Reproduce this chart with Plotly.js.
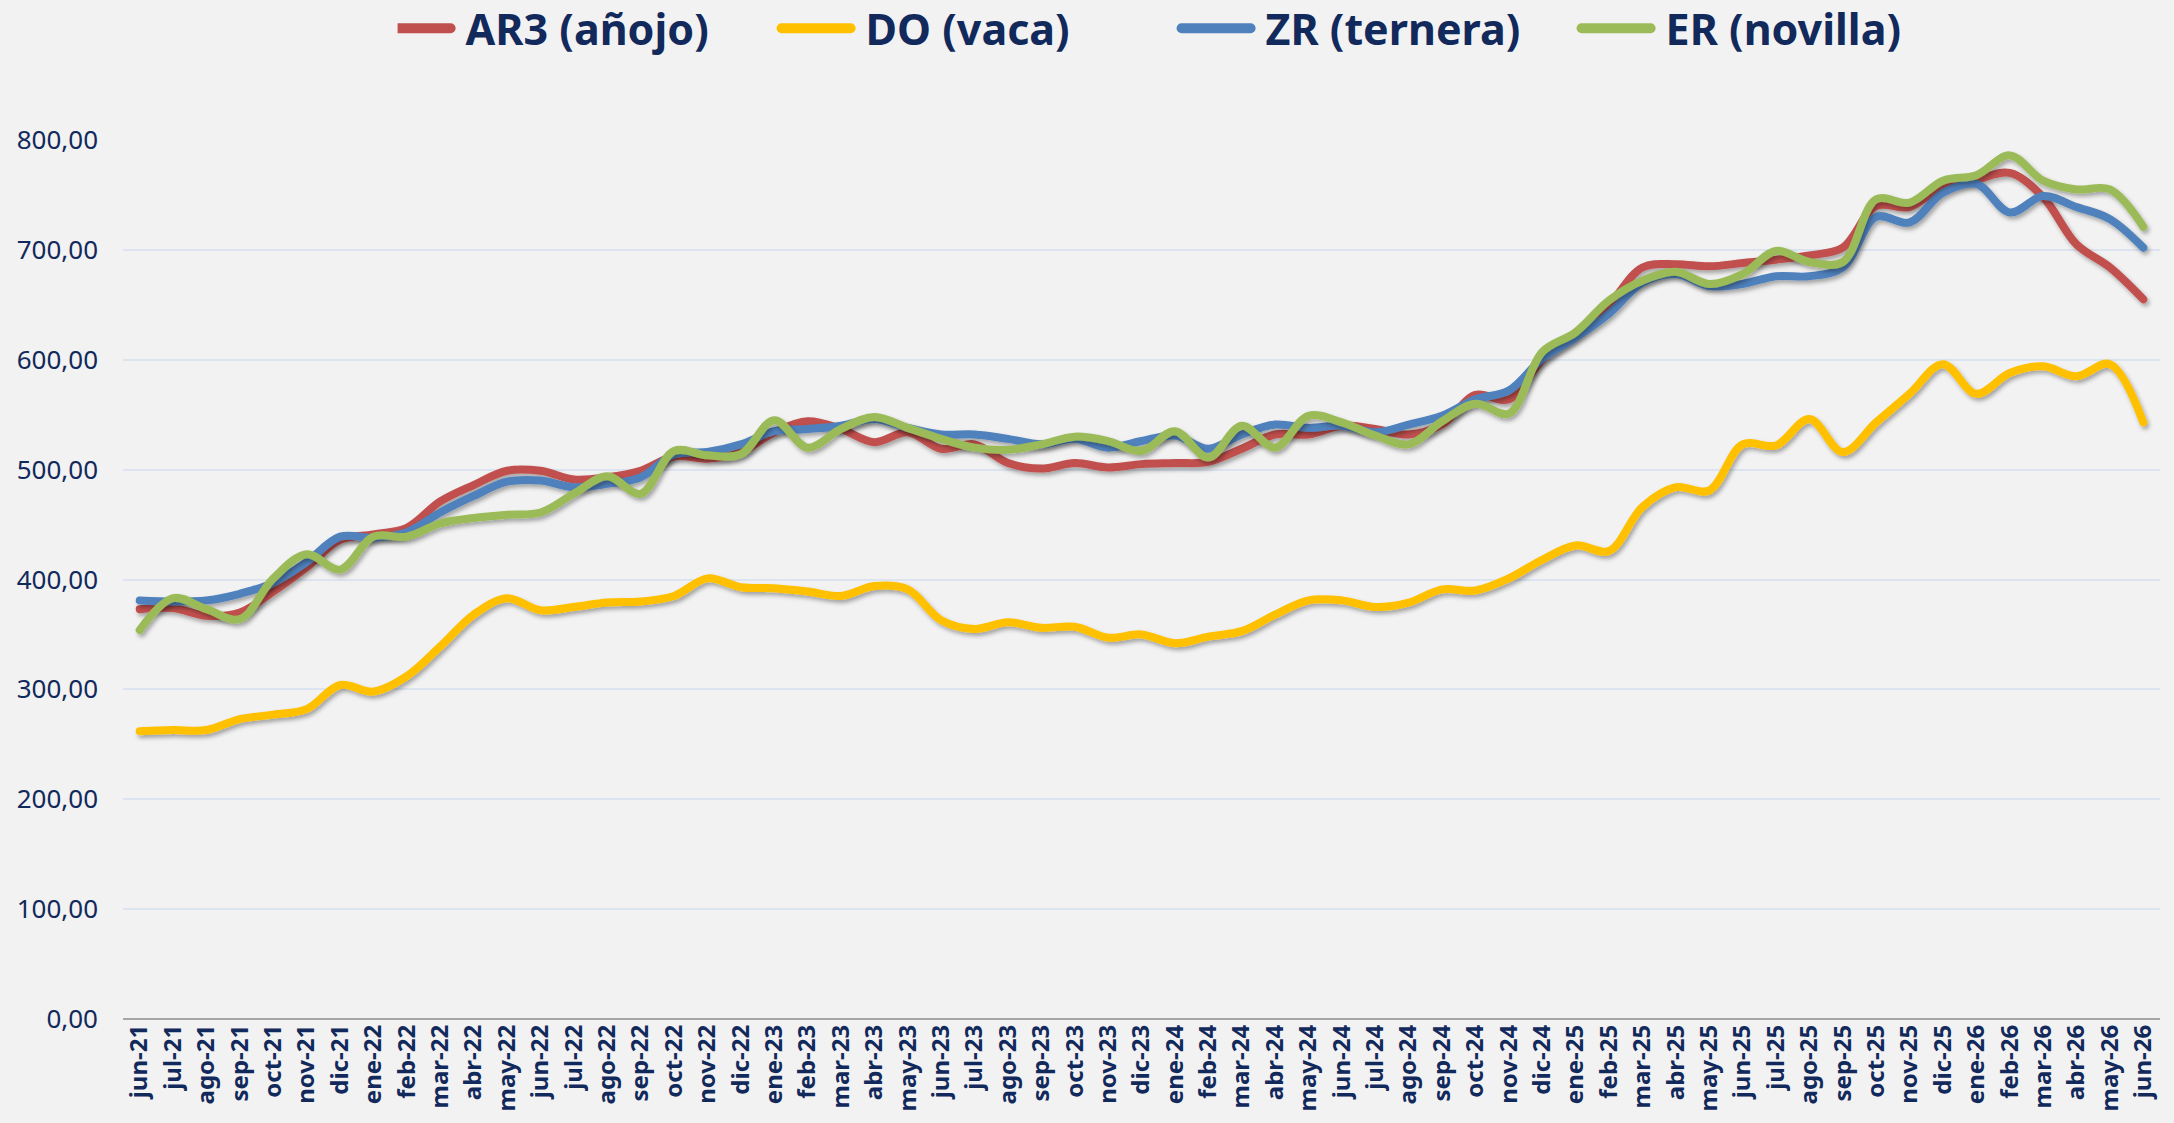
<!DOCTYPE html>
<html>
<head>
<meta charset="utf-8">
<script src="https://cdn.plot.ly/plotly-3.0.1.min.js"></script>
<style>
html, body { margin: 0; padding: 0; background: #f2f2f2; }
#chart { width: 2174px; height: 1123px; }
.scatterlayer .js-line { filter: url(#lineshadow); stroke-linecap: round; }
.legend .js-line { stroke-linecap: round; }
</style>
</head>
<body>
<svg width="0" height="0" style="position:absolute">
  <defs>
    <filter id="lineshadow" filterUnits="userSpaceOnUse" x="-200" y="-200" width="2600" height="1500">
      <feDropShadow dx="2" dy="3" stdDeviation="2" flood-color="#000" flood-opacity="0.33"/>
    </filter>
  </defs>
</svg>
<div id="chart"></div>
<script>
const months = [
  "jun-21","jul-21","ago-21","sep-21","oct-21","nov-21","dic-21",
  "ene-22","feb-22","mar-22","abr-22","may-22","jun-22","jul-22","ago-22","sep-22","oct-22","nov-22","dic-22",
  "ene-23","feb-23","mar-23","abr-23","may-23","jun-23","jul-23","ago-23","sep-23","oct-23","nov-23","dic-23",
  "ene-24","feb-24","mar-24","abr-24","may-24","jun-24","jul-24","ago-24","sep-24","oct-24","nov-24","dic-24",
  "ene-25","feb-25","mar-25","abr-25","may-25","jun-25","jul-25","ago-25","sep-25","oct-25","nov-25","dic-25",
  "ene-26","feb-26","mar-26","abr-26","may-26","jun-26"
];

const ar3_anojo = [
  373,374,367,370,389,411,436,
  441,447,471,486,499,499,491,493,499,512,510,516,
  534,544,537,525,534,519,523,506,501,506,502,505,
  506,507,519,532,532,540,537,532,541,568,564,600,
  623,650,684,687,685,688,691,695,702,740,739,758,
  764,770,748,705,684,655
];

const do_vaca = [
  262,263,263,273,277,282,304,
  298,312,339,368,383,372,375,379,380,385,401,393,
  392,389,385,394,391,363,355,361,356,357,347,350,
  342,348,353,368,381,381,375,379,391,390,401,418,
  431,426,466,484,481,523,522,546,516,543,569,596,
  569,588,594,585,596,543
];

const zr_ternera = [
  381,380,381,387,397,416,439,
  438,443,461,476,489,490,484,487,493,514,516,523,
  535,537,540,546,538,532,532,528,523,528,520,526,
  531,519,532,541,538,540,534,541,549,564,572,601,
  620,642,670,678,667,669,676,676,684,730,725,752,
  760,734,749,739,728,702
];

const er_novilla = [
  354,383,373,364,401,423,409,
  439,439,451,456,459,461,478,494,478,517,513,514,
  545,520,537,548,538,528,520,518,523,530,526,517,
  535,511,540,520,549,543,531,523,544,560,551,607,
  625,654,672,680,669,678,699,689,689,746,743,763,
  768,786,763,755,755,721
];

const seriesNames = ["AR3 (añojo)", "DO (vaca)", "ZR (ternera)", "ER (novilla)"];
const seriesColors = ["#c0504d", "#ffc000", "#4f81bd", "#9bbb59"];
const seriesValues = [ar3_anojo, do_vaca, zr_ternera, er_novilla];

const yTicks = [0, 100, 200, 300, 400, 500, 600, 700, 800];

const navy = "#12295c";
const fontFam = "Noto Sans, DejaVu Sans, sans-serif";

const traces = seriesValues.map((vals, k) => ({
  type: "scatter",
  mode: "lines",
  name: seriesNames[k],
  x: months,
  y: vals,
  line: { color: seriesColors[k], width: 8, shape: "spline", smoothing: 1 },
  hoverinfo: "x+y+name"
}));

const layout = {
  width: 2174,
  height: 1123,
  paper_bgcolor: "#f2f2f2",
  plot_bgcolor: "#f2f2f2",
  separators: ",.",
  margin: { l: 123, r: 14, t: 140, b: 104, pad: 0, autoexpand: false },
  showlegend: true,
  legend: {
    orientation: "h",
    x: 0.1348, xanchor: "left",
    y: 1.127, yanchor: "middle",
    font: { family: fontFam, size: 43, color: navy, weight: "bold" },
    bgcolor: "rgba(0,0,0,0)",
    entrywidth: 327,
    itemwidth: 58
  },
  xaxis: {
    type: "category",
    range: [-0.5, months.length - 0.5],
    tickmode: "array",
    tickvals: months,
    ticktext: months,
    tickangle: -90,
    tickfont: { family: fontFam, size: 24, color: navy, weight: "bold" },
    showgrid: false,
    zeroline: false,
    showline: false,
    ticks: "",
    automargin: false,
    fixedrange: true
  },
  yaxis: {
    range: [0, 800],
    tickmode: "array",
    tickvals: yTicks,
    tickformat: ".2f",
    tickfont: { family: fontFam, size: 26, color: navy },
    showgrid: true,
    gridcolor: "#dbe4f0",
    gridwidth: 2,
    zeroline: true,
    zerolinecolor: "#a6a6a6",
    zerolinewidth: 2,
    showline: false,
    ticks: "",
    ticklabelstandoff: 24,
    automargin: false,
    fixedrange: true
  }
};

Plotly.newPlot("chart", traces, layout, { displayModeBar: false, responsive: false }).then(gd => {
  // lengthen the legend line samples to resemble the original's wide swatches
  gd.querySelectorAll(".legend .legendlines path").forEach(p => {
    p.setAttribute("d", "M-16,0h69");
    p.style.strokeWidth = "10px";
  });
});
</script>
</body>
</html>
